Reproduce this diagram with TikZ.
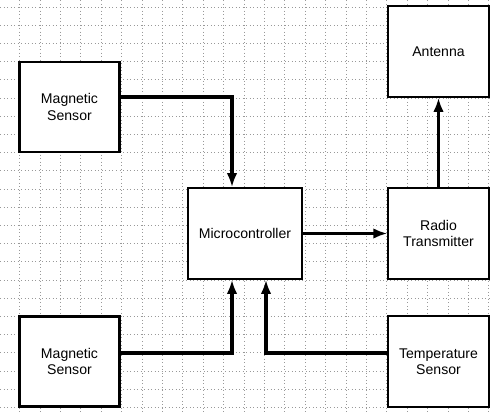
\documentclass[tikz,border=0pt]{standalone}
\usepackage{fontspec}
\setmainfont{Liberation Sans}
\usepackage{tikz}
\usetikzlibrary{arrows.meta,calc}

\begin{document}
\begin{tikzpicture}[
		x={(0.025cm,0cm)},
		y={(0cm,-0.025cm)},
		font=\fontsize{10}{11.5}\selectfont,
		>={Latex[length=10pt,width=7.5pt]},
		gridline/.style={gray!80, dotted, line width=0.5pt},
		blk/.style={draw, fill=white, line width=1pt, align=center, inner sep=0pt},
		sensor/.style={blk, line width=2pt},
		link/.style={->, line width=2.3pt}
		]
		
		\useasboundingbox (0,0) rectangle (490,412);
		
		% background grid
		\foreach \k in {0,...,23}
		\draw[gridline] (19.5+20.4*\k,0) -- (19.5+20.4*\k,412);
		\foreach \k in {0,...,22}
		\draw[gridline] (0,7+18.2*\k) -- (490,7+18.2*\k);
		
		% blocks
		\node[sensor, minimum width=2.5cm, minimum height=2.25cm] (mag1) at (69.5,107) {Magnetic\\Sensor};
		\node[sensor, minimum width=2.5cm, minimum height=2.25cm] (mag2) at (69.5,361.5) {Magnetic\\Sensor};
		\node[blk, minimum width=2.85cm, minimum height=2.28cm] (mcu) at (245,233.5) {Microcontroller};
		\node[blk, minimum width=2.52cm, minimum height=2.28cm] (ant) at (438.5,51.5) {Antenna};
		\node[blk, minimum width=2.52cm, minimum height=2.28cm] (radio) at (438.5,233.5) {Radio\\Transmitter};
		\node[blk, minimum width=2.52cm, minimum height=2.28cm] (temp) at (438.5,361.5) {Temperature\\Sensor};
		
		% connections
		\draw[link] ($(mag1.east)+(0,-10)$) -| ($(mcu.north)+(-13,0)$);
		\draw[link] ($(mag2.east)+(0,-8.5)$) -| ($(mcu.south)+(-13,0)$);
		\draw[link] ($(temp.west)+(0,-8.5)$) -| ($(mcu.south)+(21,0)$);
		\draw[link] (mcu.east) -- (radio.west);
		\draw[link] (radio.north) -- (ant.south);
		
	\end{tikzpicture}
\end{document}
